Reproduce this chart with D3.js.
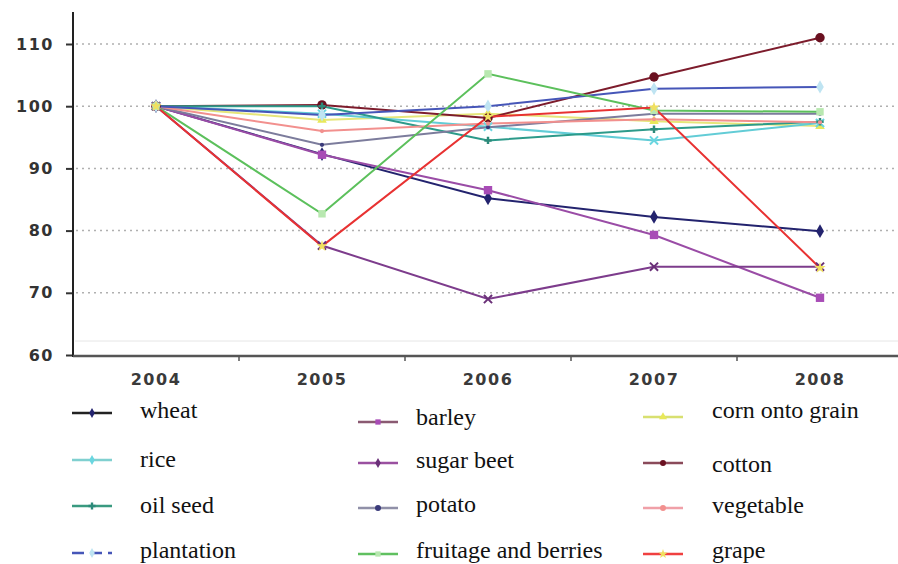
<!DOCTYPE html>
<html>
<head>
<meta charset="utf-8">
<script src="https://cdn.jsdelivr.net/npm/d3@7"></script>
<style>
  body { margin: 0; background: #fff; }
  svg { display: block; }
</style>
</head>
<body>
<div id="chart"></div>
<script>
// years on x axis
const years = ["2004", "2005", "2006", "2007", "2008"];
const yTicks = [60, 70, 80, 90, 100, 110];
const gridTicks = [70, 80, 90, 100, 110];

// values (index, 2004 = 100)
const wheat      = [100, 92.3, 85.2, 82.2, 79.9];
const barley     = [100, 92.2, 86.5, 79.3, 69.2];
const cornGrain  = [100, 97.8, 98.8, 97.6, 96.8];
const rice       = [100, 98.8, 96.7, 94.5, 97.3];
const sugarBeet  = [100, 77.6, 69.0, 74.2, 74.2];
const cotton     = [100, 100.2, 98.1, 104.7, 111.0];
const oilSeed    = [100, 100, 94.5, 96.3, 97.5];
const potato     = [100, 93.8, 96.6, 98.8, 98.8];
const vegetable  = [100, 96.0, 97.2, 97.9, 97.4];
const plantation = [100, 98.6, 100.0, 102.8, 103.1];
const fruitage   = [100, 82.7, 105.2, 99.3, 99.1];
const grape      = [100, 77.5, 98.3, 99.8, 74.0];

const seriesNames = ["wheat", "barley", "corn onto grain", "rice", "sugar beet", "cotton",
                     "oil seed", "potato", "vegetable", "plantation", "fruitage and berries", "grape"];
const seriesValues = [wheat, barley, cornGrain, rice, sugarBeet, cotton,
                      oilSeed, potato, vegetable, plantation, fruitage, grape];

// line colour, marker, marker colour, legend line colour
const styles = [
  {line: "#23236e", sym: d3.symbolDiamond, mk: "#23236e", leg: "#222", size: 55},
  {line: "#9a4ca6", sym: d3.symbolSquare, mk: "#a84cb6", leg: "#8a5a72", size: 70},
  {line: "#e6e67a", sym: d3.symbolTriangle, mk: "#e8e85a", leg: "#d8e070", size: 40},
  {line: "#62ccd6", sym: d3.symbolTimes, mk: "#6ad6e0", leg: "#80d0d0", size: 45},
  {line: "#7d3c8c", sym: d3.symbolTimes, mk: "#6a3078", leg: "#9a50a0", size: 45},
  {line: "#7d1c2c", sym: d3.symbolCircle, mk: "#6a1020", leg: "#8a4a5a", size: 70},
  {line: "#2c9a8a", sym: d3.symbolCross, mk: "#2c8a7a", leg: "#3a9a80", size: 30},
  {line: "#7c7c9c", sym: d3.symbolCircle, mk: "#3a3a7a", leg: "#9090a8", size: 14},
  {line: "#f2908e", sym: d3.symbolCircle, mk: "#f2908e", leg: "#f0a0a8", size: 14},
  {line: "#4656b8", sym: d3.symbolDiamond, mk: "#bfe4f2", leg: "#4656b8", size: 50},
  {line: "#5cc05c", sym: d3.symbolSquare, mk: "#b8e8b0", leg: "#60c060", size: 55},
  {line: "#e83232", sym: d3.symbolStar, mk: "#f0e060", leg: "#f04040", size: 40}
];

const W = 898, H = 564;
const svg = d3.select("#chart").append("svg")
  .attr("width", W).attr("height", H);

const x = d3.scaleBand().domain(years).range([73, 903]).paddingInner(0).paddingOuter(0);
const cx = d => x(d) + x.bandwidth() / 2;
const y = d3.scaleLinear().domain([60, 110]).range([355, 44]);

// faint inner frame line
svg.append("line")
  .attr("x1", 75).attr("x2", W).attr("y1", 341).attr("y2", 341)
  .attr("stroke", "#e6e6e6").attr("stroke-width", 1);

// dotted gridlines
svg.selectAll(".grid")
  .data(gridTicks)
  .enter().append("line")
  .attr("class", "grid")
  .attr("x1", 76).attr("x2", W)
  .attr("y1", d => y(d)).attr("y2", d => y(d))
  .attr("stroke", "#b0b0b0")
  .attr("stroke-width", 1.5)
  .attr("stroke-dasharray", "2,4");

// y axis
const yAxis = svg.append("g")
  .attr("transform", "translate(73,0)")
  .call(d3.axisLeft(y).tickValues(yTicks).tickSize(7).tickSizeOuter(0).tickPadding(12));
yAxis.select(".domain").remove();
yAxis.selectAll(".tick line").attr("stroke", "#333").attr("stroke-width", 2);
yAxis.selectAll("text")
  .attr("font-family", "DejaVu Sans, sans-serif")
  .attr("font-size", 16)
  .attr("font-weight", "bold")
  .attr("letter-spacing", 1.5)
  .attr("fill", "#333");
svg.append("line")
  .attr("x1", 73).attr("x2", 73).attr("y1", 12).attr("y2", 357)
  .attr("stroke", "#222").attr("stroke-width", 2);

// x axis
const xAxis = svg.append("g")
  .attr("transform", "translate(0,356)")
  .call(d3.axisBottom(x).tickSize(0).tickPadding(18));
xAxis.select(".domain").remove();
xAxis.selectAll("text")
  .attr("font-family", "DejaVu Sans, sans-serif")
  .attr("font-size", 16)
  .attr("font-weight", "bold")
  .attr("letter-spacing", 1.5)
  .attr("fill", "#3a3a3a");
svg.append("line")
  .attr("x1", 73).attr("x2", W).attr("y1", 356).attr("y2", 356)
  .attr("stroke", "#555").attr("stroke-width", 2.5);
svg.selectAll(".xtick")
  .data(years.slice(1))
  .enter().append("line")
  .attr("class", "xtick")
  .attr("x1", d => x(d)).attr("x2", d => x(d))
  .attr("y1", 356).attr("y2", 361)
  .attr("stroke", "#555").attr("stroke-width", 1.5);

// lines
const line = d3.line().x((d, i) => cx(years[i])).y(d => y(d));

seriesValues.forEach(function(vals, k) {
  const st = styles[k];
  svg.append("path")
    .datum(vals)
    .attr("fill", "none")
    .attr("stroke", st.line)
    .attr("stroke-width", 2)
    .attr("d", line);
});

// markers
seriesValues.forEach(function(vals, k) {
  const st = styles[k];
  const isStroke = st.sym === d3.symbolTimes;
  svg.selectAll(".m" + k)
    .data(vals)
    .enter().append("path")
    .attr("class", "m" + k)
    .attr("transform", (d, i) => "translate(" + cx(years[i]) + "," + y(d) + ")")
    .attr("d", d3.symbol().type(st.sym).size(st.size))
    .attr("fill", isStroke ? "none" : st.mk)
    .attr("stroke", isStroke ? st.mk : "none")
    .attr("stroke-width", isStroke ? 2 : 0);
});

// legend, three columns
const legCols = [
  {sx: 72, tx: 140},
  {sx: 358, tx: 416},
  {sx: 643, tx: 712}
];
const legRowsY = [
  [413, 460, 506, 553],
  [422, 463, 508, 554],
  [417, 463, 508, 554]
];
const legTextY = [
  [418, 467, 513, 558],
  [425, 468, 512, 558],
  [418, 472, 513, 558]
];

seriesNames.forEach(function(name, k) {
  const col = k % 3, row = Math.floor(k / 3);
  const st = styles[k];
  const sx = legCols[col].sx, sy = legRowsY[col][row];
  const g = svg.append("g");
  g.append("line")
    .attr("x1", sx).attr("x2", sx + 40)
    .attr("y1", sy).attr("y2", sy)
    .attr("stroke", st.leg)
    .attr("stroke-width", 2.5)
    .attr("stroke-dasharray", k === 9 ? "12,6" : null);
  g.append("path")
    .attr("transform", "translate(" + (sx + 20) + "," + sy + ")")
    .attr("d", d3.symbol().type(st.sym === d3.symbolTimes ? d3.symbolDiamond : st.sym).size(28))
    .attr("fill", st.mk);
  g.append("text")
    .attr("x", legCols[col].tx)
    .attr("y", legTextY[col][row])
    .attr("font-family", "Liberation Serif, Times New Roman, serif")
    .attr("font-size", 24)
    .attr("fill", "#111")
    .text(name);
});
</script>
</body>
</html>
